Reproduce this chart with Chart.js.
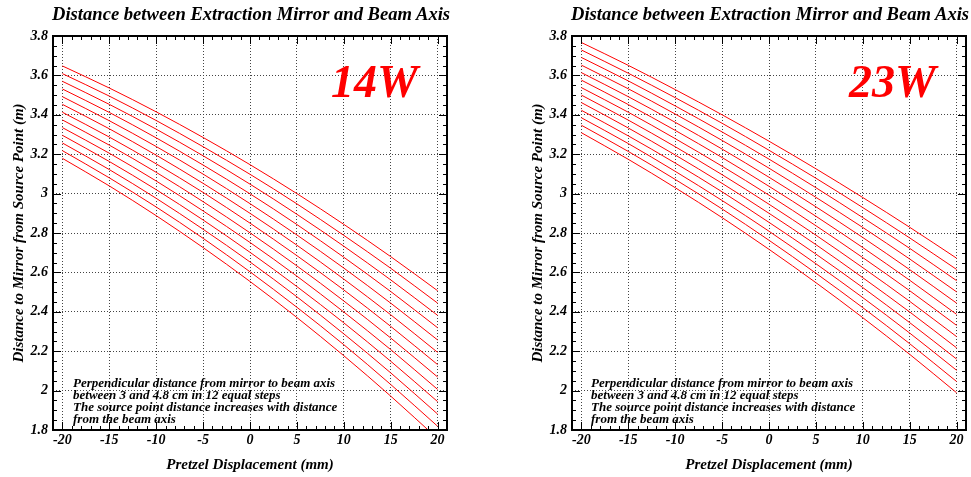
<!DOCTYPE html>
<html lang="en">
<head>
  <meta charset="UTF-8" />
  <title>Extraction Mirror Distance</title>
  <script src="https://cdn.jsdelivr.net/npm/chart.js"></script>
  <style>
    body {
      margin: 0;
      background: #fff;
      font-family: 'Liberation Serif', 'Times New Roman', serif;
    }

    .page {
      position: relative;
      width: 971px;
      height: 477px;
      overflow: hidden;
    }

    .panel {
      position: absolute;
      top: 0;
      height: 477px;
    }

    .panel-title {
      position: absolute;
      top: 3px;
      width: 394px;
      text-align: center;
      font: italic bold 18.6px 'Liberation Serif', serif;
      color: #000;
      white-space: nowrap;
    }

    .tag {
      position: absolute;
      top: 55px;
      font: italic bold 46px 'Liberation Serif', serif;
      color: #ff0000;
    }

    .note {
      position: absolute;
      top: 377px;
      font: italic bold 13px 'Liberation Serif', serif;
      line-height: 12px;
      color: #000;
      white-space: nowrap;
    }
  </style>
</head>
<body>

<div class="page">
  <div class="panel" style="left:0; width:485px;">
    <canvas id="chart14W" width="485" height="477"></canvas>
    <div class="panel-title" style="left:52px;">Distance between Extraction Mirror and Beam Axis</div>
    <div class="tag" style="left:331px;">14W</div>
    <div class="note" style="left:73px;">Perpendicular distance from mirror to beam axis<br>between 3 and 4.8 cm in 12 equal steps<br>The source point distance increases with distance<br>from the beam axis</div>
  </div>
  <div class="panel" style="left:485px; width:486px;">
    <canvas id="chart23W" width="486" height="477"></canvas>
    <div class="panel-title" style="left:86px;">Distance between Extraction Mirror and Beam Axis</div>
    <div class="tag" style="left:364px;">23W</div>
    <div class="note" style="left:106px;">Perpendicular distance from mirror to beam axis<br>between 3 and 4.8 cm in 12 equal steps<br>The source point distance increases with distance<br>from the beam axis</div>
  </div>
</div>

<script>
// pretzel displacement (mm) where the curves were read
const pretzelMm = [-20, -15, -10, -5, 0, 5, 10, 15, 20];

// mirror-to-axis distance (cm), top curve first
const mirrorCm = [4.8, 4.65, 4.5, 4.35, 4.2, 4.05, 3.9, 3.75, 3.6, 3.45, 3.3, 3.15, 3.0];

const xTicks = [-20, -15, -10, -5, 0, 5, 10, 15, 20];
const yTicks = [1.8, 2, 2.2, 2.4, 2.6, 2.8, 3, 3.2, 3.4, 3.6, 3.8];

// distance mirror -> source point (m), one row per mirror distance
const source14W = [
  [3.648, 3.536, 3.415, 3.285, 3.147, 3.000, 2.844, 2.680, 2.507],
  [3.609, 3.495, 3.371, 3.238, 3.098, 2.948, 2.788, 2.621, 2.444],
  [3.570, 3.453, 3.327, 3.192, 3.048, 2.895, 2.733, 2.562, 2.382],
  [3.531, 3.412, 3.283, 3.145, 2.999, 2.843, 2.677, 2.503, 2.319],
  [3.492, 3.370, 3.239, 3.099, 2.949, 2.790, 2.622, 2.444, 2.257],
  [3.453, 3.329, 3.195, 3.052, 2.900, 2.738, 2.566, 2.385, 2.194],
  [3.413, 3.287, 3.151, 3.006, 2.850, 2.685, 2.511, 2.326, 2.132],
  [3.374, 3.246, 3.108, 2.959, 2.801, 2.633, 2.455, 2.267, 2.069],
  [3.335, 3.205, 3.064, 2.912, 2.752, 2.581, 2.399, 2.208, 2.006],
  [3.296, 3.163, 3.020, 2.866, 2.702, 2.528, 2.344, 2.149, 1.944],
  [3.257, 3.122, 2.976, 2.819, 2.653, 2.476, 2.288, 2.090, 1.881],
  [3.218, 3.080, 2.932, 2.773, 2.603, 2.423, 2.233, 2.031, 1.819],
  [3.179, 3.039, 2.888, 2.726, 2.554, 2.371, 2.177, 1.972, 1.756]
];

const source23W = [
  [3.767, 3.651, 3.528, 3.400, 3.266, 3.126, 2.980, 2.829, 2.672],
  [3.729, 3.611, 3.487, 3.357, 3.220, 3.078, 2.929, 2.775, 2.615],
  [3.691, 3.572, 3.445, 3.313, 3.175, 3.030, 2.878, 2.722, 2.558],
  [3.652, 3.532, 3.404, 3.270, 3.129, 2.981, 2.828, 2.668, 2.501],
  [3.614, 3.492, 3.362, 3.226, 3.083, 2.933, 2.777, 2.614, 2.444],
  [3.576, 3.452, 3.321, 3.183, 3.037, 2.885, 2.726, 2.560, 2.387],
  [3.538, 3.413, 3.279, 3.139, 2.992, 2.837, 2.675, 2.507, 2.331],
  [3.500, 3.373, 3.238, 3.096, 2.946, 2.789, 2.624, 2.453, 2.274],
  [3.462, 3.333, 3.196, 3.052, 2.900, 2.741, 2.573, 2.399, 2.217],
  [3.423, 3.293, 3.155, 3.009, 2.854, 2.693, 2.523, 2.345, 2.160],
  [3.385, 3.254, 3.113, 2.965, 2.809, 2.644, 2.472, 2.292, 2.103],
  [3.347, 3.214, 3.072, 2.922, 2.763, 2.596, 2.421, 2.238, 2.046],
  [3.309, 3.174, 3.030, 2.878, 2.717, 2.548, 2.370, 2.184, 1.989]
];

const serif = "'Liberation Serif', 'Times New Roman', serif";

// inner tick marks on all four sides + heavy frame, like the old plotting package
const frameTicks = {
  id: 'frameTicks',
  afterDraw(chart) {
    const { ctx, chartArea: a, scales: { x, y } } = chart;
    ctx.save();
    ctx.strokeStyle = '#000';
    ctx.lineWidth = 1;
    ctx.beginPath();
    for (let v = -21; v <= 21; v++) {
      const px = Math.round(x.getPixelForValue(v)) + 0.5;
      const len = v % 5 === 0 ? 8 : 4;
      ctx.moveTo(px, a.bottom); ctx.lineTo(px, a.bottom - len);
      ctx.moveTo(px, a.top); ctx.lineTo(px, a.top + len);
    }
    for (let i = 0; i <= 40; i++) {
      const py = Math.round(y.getPixelForValue(1.8 + i * 0.05)) + 0.5;
      const len = i % 4 === 0 ? 8 : 4;
      ctx.moveTo(a.left, py); ctx.lineTo(a.left + len, py);
      ctx.moveTo(a.right, py); ctx.lineTo(a.right - len, py);
    }
    ctx.stroke();
    ctx.lineWidth = 2;
    ctx.strokeRect(a.left, a.top, a.right - a.left, a.bottom - a.top);
    ctx.restore();
  }
};

function makeChart(id, rows, pad) {
  const datasets = rows.map((row, i) => ({
    label: mirrorCm[i] + ' cm',
    data: row.map((v, j) => ({ x: pretzelMm[j], y: v })),
    borderColor: '#ff0000',
    borderWidth: 1,
    pointRadius: 0,
    cubicInterpolationMode: 'monotone',
    fill: false
  }));

  const tickFont = { family: serif, size: 14, style: 'italic', weight: 'bold' };
  const titleFont = { family: serif, size: 15, style: 'italic', weight: 'bold' };

  return new Chart(document.getElementById(id), {
    type: 'line',
    data: { datasets },
    plugins: [frameTicks],
    options: {
      responsive: false,
      animation: false,
      events: [],
      layout: { padding: pad },
      plugins: { legend: { display: false }, tooltip: { enabled: false }, title: { display: false } },
      scales: {
        x: {
          type: 'linear',
          min: -21,
          max: 21,
          afterBuildTicks: s => { s.ticks = xTicks.map(v => ({ value: v })); },
          afterFit: s => { s.height = 47; },
          grid: { color: '#444', lineWidth: 1, drawTicks: false },
          border: { display: false, dash: [1, 2] },
          ticks: { padding: 2, color: '#000', font: tickFont, callback: v => String(v) },
          title: { display: true, text: 'Pretzel Displacement (mm)', color: '#000', padding: 3, font: titleFont }
        },
        y: {
          min: 1.8,
          max: 3.8,
          afterBuildTicks: s => { s.ticks = yTicks.map(v => ({ value: v })); },
          afterFit: s => { s.width = 53; },
          grid: { color: '#444', lineWidth: 1, drawTicks: false },
          border: { display: false, dash: [1, 2] },
          ticks: { padding: 5, color: '#000', font: tickFont, callback: v => String(Math.round(v * 10) / 10) },
          title: { display: true, text: 'Distance to Mirror from Source Point (m)', color: '#000', padding: 10, font: titleFont }
        }
      }
    }
  });
}

makeChart('chart14W', source14W, { left: 0, right: 38, top: 36, bottom: 0 });
makeChart('chart23W', source23W, { left: 34, right: 5, top: 36, bottom: 0 });
</script>

</body>
</html>
